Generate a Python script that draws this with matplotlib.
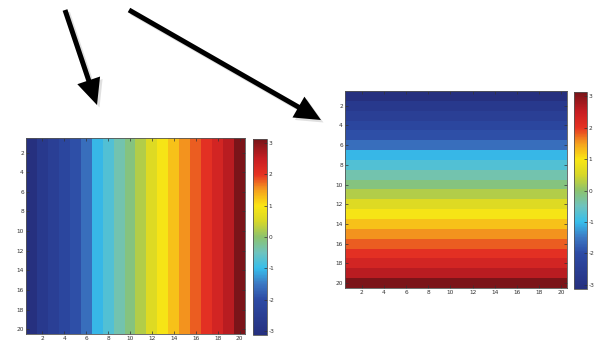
import numpy as np
import matplotlib.pyplot as plt
from matplotlib.colors import LinearSegmentedColormap
from matplotlib.patches import FancyArrow

plt.rcParams['axes.unicode_minus'] = False

stripe_values = [-3.1, -2.7, -2.45, -2.2, -1.95, -1.6, -1.05, -0.75, -0.4, -0.1,
                 0.25, 0.6, 0.95, 1.25, 1.55, 1.8, 2.05, 2.3, 2.6, 3.1]
axis_ticks = [2, 4, 6, 8, 10, 12, 14, 16, 18, 20]
cbar_ticks = [-3, -2, -1, 0, 1, 2, 3]
vmin, vmax = -3.13, 3.13

# washed out jet, as it looks in the photographed screen
jet_stops = [(-3.13, '#26307f'), (-2.0, '#2d4ba5'), (-1.5, '#3c78c3'),
             (-1.0, '#37beeb'), (-0.5, '#6ec3be'), (0.0, '#8cc36e'),
             (0.5, '#d7d728'), (1.0, '#fae614'), (1.5, '#f5a01e'),
             (2.0, '#e63223'), (2.5, '#c81e23'), (3.13, '#781419')]
cmap = LinearSegmentedColormap.from_list(
    'photo_jet', [((v - vmin) / (vmax - vmin), c) for v, c in jet_stops])

W, H = 596, 341
fig = plt.figure(figsize=(W / 100, H / 100), dpi=100)
fig.patch.set_facecolor('white')


def box(x0, y0, x1, y1):
    # pixel box -> figure fraction
    return [x0 / W, 1 - y1 / H, (x1 - x0) / W, (y1 - y0) / H]


def heatmap(rect, cbar_rect, data):
    ax = fig.add_axes(box(*rect))
    n = data.shape[0]
    im = ax.imshow(data, cmap=cmap, vmin=vmin, vmax=vmax,
                   extent=[0.5, n + 0.5, n + 0.5, 0.5], aspect='auto',
                   interpolation='nearest')
    ax.set_xticks(axis_ticks)
    ax.set_yticks(axis_ticks)
    ax.tick_params(direction='in', length=2, width=0.5, labelsize=4.2,
                   colors='#333333', top=True, right=True, pad=1.5)
    for s in ax.spines.values():
        s.set_linewidth(0.6)
        s.set_color('#555555')
    cax = fig.add_axes(box(*cbar_rect))
    cb = fig.colorbar(im, cax=cax, ticks=cbar_ticks)
    cax.tick_params(direction='in', length=2, width=0.5, labelsize=4.2,
                    colors='#333333', pad=1)
    cb.outline.set_linewidth(0.6)
    cb.outline.set_edgecolor('#555555')
    return ax


vals = np.array(stripe_values)
left_data = np.tile(vals, (len(vals), 1))   # columns change
right_data = left_data.T                    # rows change

heatmap((26, 138, 245, 334), (253, 139, 267, 335), left_data)
heatmap((345, 91, 567, 288), (574, 92, 587, 289), right_data)

# overlay in pixel units for the two arrows
over = fig.add_axes([0, 0, 1, 1], zorder=5)
over.set_xlim(0, W)
over.set_ylim(H, 0)
over.axis('off')

arrows = [((65, 10), (97, 105)), ((129, 10), (321, 120))]
for (x0, y0), (x1, y1) in arrows:
    for off, col, a in [(2.5, '#999999', 0.3), (0, 'black', 1.0)]:
        over.add_patch(FancyArrow(x0 + off, y0 + off, x1 - x0, y1 - y0, width=5,
                                  head_width=24, head_length=26,
                                  length_includes_head=True, color=col,
                                  alpha=a, lw=0))

fig.savefig('out.png', dpi=100)
